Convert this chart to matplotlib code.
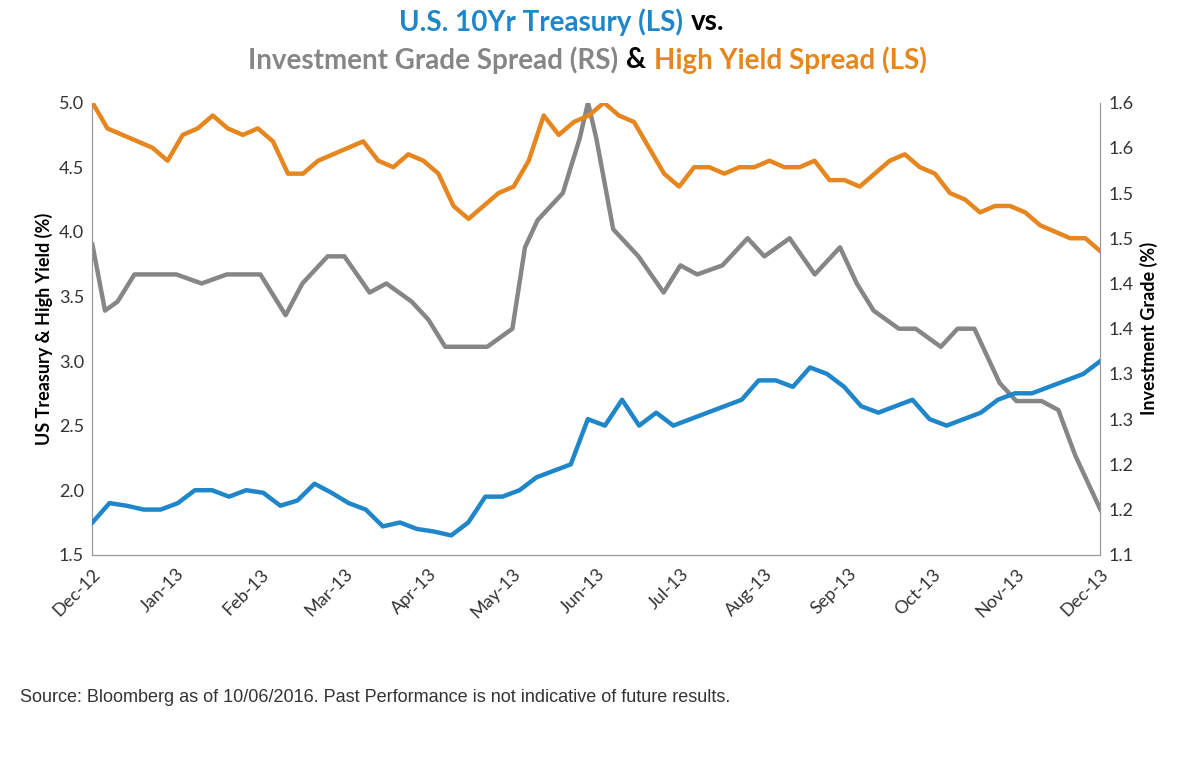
import numpy as np
import matplotlib.pyplot as plt

plt.rcParams['font.family'] = ['Lato', 'DejaVu Sans']

months = ['Dec-12', 'Jan-13', 'Feb-13', 'Mar-13', 'Apr-13', 'May-13', 'Jun-13',
          'Jul-13', 'Aug-13', 'Sep-13', 'Oct-13', 'Nov-13', 'Dec-13']

treasury = [1.75, 1.9, 1.88, 1.85, 1.85, 1.9, 2.0, 2.0, 1.95, 2.0, 1.98, 1.88, 1.92, 2.05,
            1.98, 1.9, 1.85, 1.72, 1.75, 1.7, 1.68, 1.65, 1.75, 1.95, 1.95, 2.0, 2.1, 2.15,
            2.2, 2.55, 2.5, 2.7, 2.5, 2.6, 2.5, 2.55, 2.6, 2.65, 2.7, 2.85, 2.85, 2.8, 2.95,
            2.9, 2.8, 2.65, 2.6, 2.65, 2.7, 2.55, 2.5, 2.55, 2.6, 2.7, 2.75, 2.75, 2.8,
            2.85, 2.9, 3.0]
high_yield = [5.0, 4.8, 4.75, 4.7, 4.65, 4.55, 4.75, 4.8, 4.9, 4.8, 4.75, 4.8, 4.7, 4.45,
              4.45, 4.55, 4.6, 4.65, 4.7, 4.55, 4.5, 4.6, 4.55, 4.45, 4.2, 4.1, 4.2, 4.3,
              4.35, 4.55, 4.9, 4.75, 4.85, 4.9, 5.0, 4.9, 4.85, 4.65, 4.45, 4.35, 4.5, 4.5,
              4.45, 4.5, 4.5, 4.55, 4.5, 4.5, 4.55, 4.4, 4.4, 4.35, 4.45, 4.55, 4.6, 4.5,
              4.45, 4.3, 4.25, 4.15, 4.2, 4.2, 4.15, 4.05, 4.0, 3.95, 3.95, 3.85]
inv_grade_month = [0, 0.15, 0.3, 0.5, 1, 1.3, 1.6, 2, 2.3, 2.5, 2.8, 3.0, 3.3, 3.5, 3.8,
                   4.0, 4.2, 4.4, 4.7, 5.0, 5.15, 5.3, 5.6, 5.8, 5.9, 6.0, 6.2, 6.5, 6.8,
                   7.0, 7.2, 7.5, 7.8, 8.0, 8.3, 8.6, 8.9, 9.1, 9.3, 9.6, 9.8, 10.1, 10.3,
                   10.5, 10.8, 11.0, 11.3, 11.5, 11.7, 11.9, 12]
inv_grade = [1.443, 1.37, 1.38, 1.41, 1.41, 1.40, 1.41, 1.41, 1.365, 1.40, 1.43, 1.43,
             1.39, 1.40, 1.38, 1.36, 1.33, 1.33, 1.33, 1.35, 1.44, 1.47, 1.50, 1.56, 1.60,
             1.56, 1.46, 1.43, 1.39, 1.42, 1.41, 1.42, 1.45, 1.43, 1.45, 1.41, 1.44, 1.40,
             1.37, 1.35, 1.35, 1.33, 1.35, 1.35, 1.29, 1.27, 1.27, 1.26, 1.21, 1.17, 1.15]

blue, grey, orange = '#1f87c9', '#868686', '#e6861e'

fig = plt.figure(figsize=(12, 7.6), dpi=100)
ax = fig.add_axes([0.077, 0.27, 0.84, 0.595])
ax2 = ax.twinx()

ax.plot(np.linspace(0, 12, len(treasury)), treasury, color=blue, lw=3.2, zorder=3)
ax.plot(np.linspace(0, 12, len(high_yield)), high_yield, color=orange, lw=3.2, zorder=3)
ax2.plot(inv_grade_month, inv_grade, color=grey, lw=3.2)
ax.set_zorder(ax2.get_zorder() + 1)
ax.patch.set_visible(False)

ax.set_xlim(0, 12)
ax.set_ylim(1.5, 5.0)
ax2.set_ylim(1.1, 1.6)
ax.set_yticks(np.arange(1.5, 5.01, 0.5))
ax.set_yticklabels([f'{v:.1f}' for v in np.arange(1.5, 5.01, 0.5)])
r = np.arange(1.1, 1.601, 0.05)
ax2.set_yticks(r)
ax2.set_yticklabels([f'{v:.1f}' for v in r])
ax.set_xticks(range(13))
ax.set_xticklabels(months, rotation=45, ha='right', rotation_mode='anchor')

for a in (ax, ax2):
    a.spines['top'].set_visible(False)
    for s in ('left', 'right', 'bottom'):
        a.spines[s].set_color('#999999')
    a.tick_params(labelsize=13, colors='#333333', length=0, pad=6)
ax.tick_params(axis='x', pad=8)

ax.set_ylabel('US Treasury & High Yield (%)', fontsize=13, fontweight='bold')
ax2.set_ylabel('Investment Grade (%)', fontsize=13, fontweight='bold')


def title_line(parts, xc, y, fs=20):
    renderer = fig.canvas.get_renderer()
    texts = [fig.text(0, y, s, color=c, fontsize=fs, fontweight='bold', va='center')
             for s, c in parts]
    widths = [t.get_window_extent(renderer).width / fig.bbox.width for t in texts]
    gap = 8 / 1200
    x = xc - (sum(widths) + gap * (len(texts) - 1)) / 2
    for t, w in zip(texts, widths):
        t.set_x(x)
        x += w + gap


title_line([('U.S. 10Yr Treasury (LS)', blue), ('vs.', 'black')], 562 / 1200, 1 - 22 / 760)
title_line([('Investment Grade Spread (RS)', grey), ('&', 'black'),
            ('High Yield Spread (LS)', orange)], 587 / 1200, 1 - 60 / 760)

fig.text(20 / 1200, 1 - 698 / 760,
         'Source: Bloomberg as of 10/06/2016. Past Performance is not indicative of future results.',
         fontsize=13, color='#333333', family=['Liberation Sans', 'DejaVu Sans'], va='center')

fig.savefig('out.png', dpi=100)
